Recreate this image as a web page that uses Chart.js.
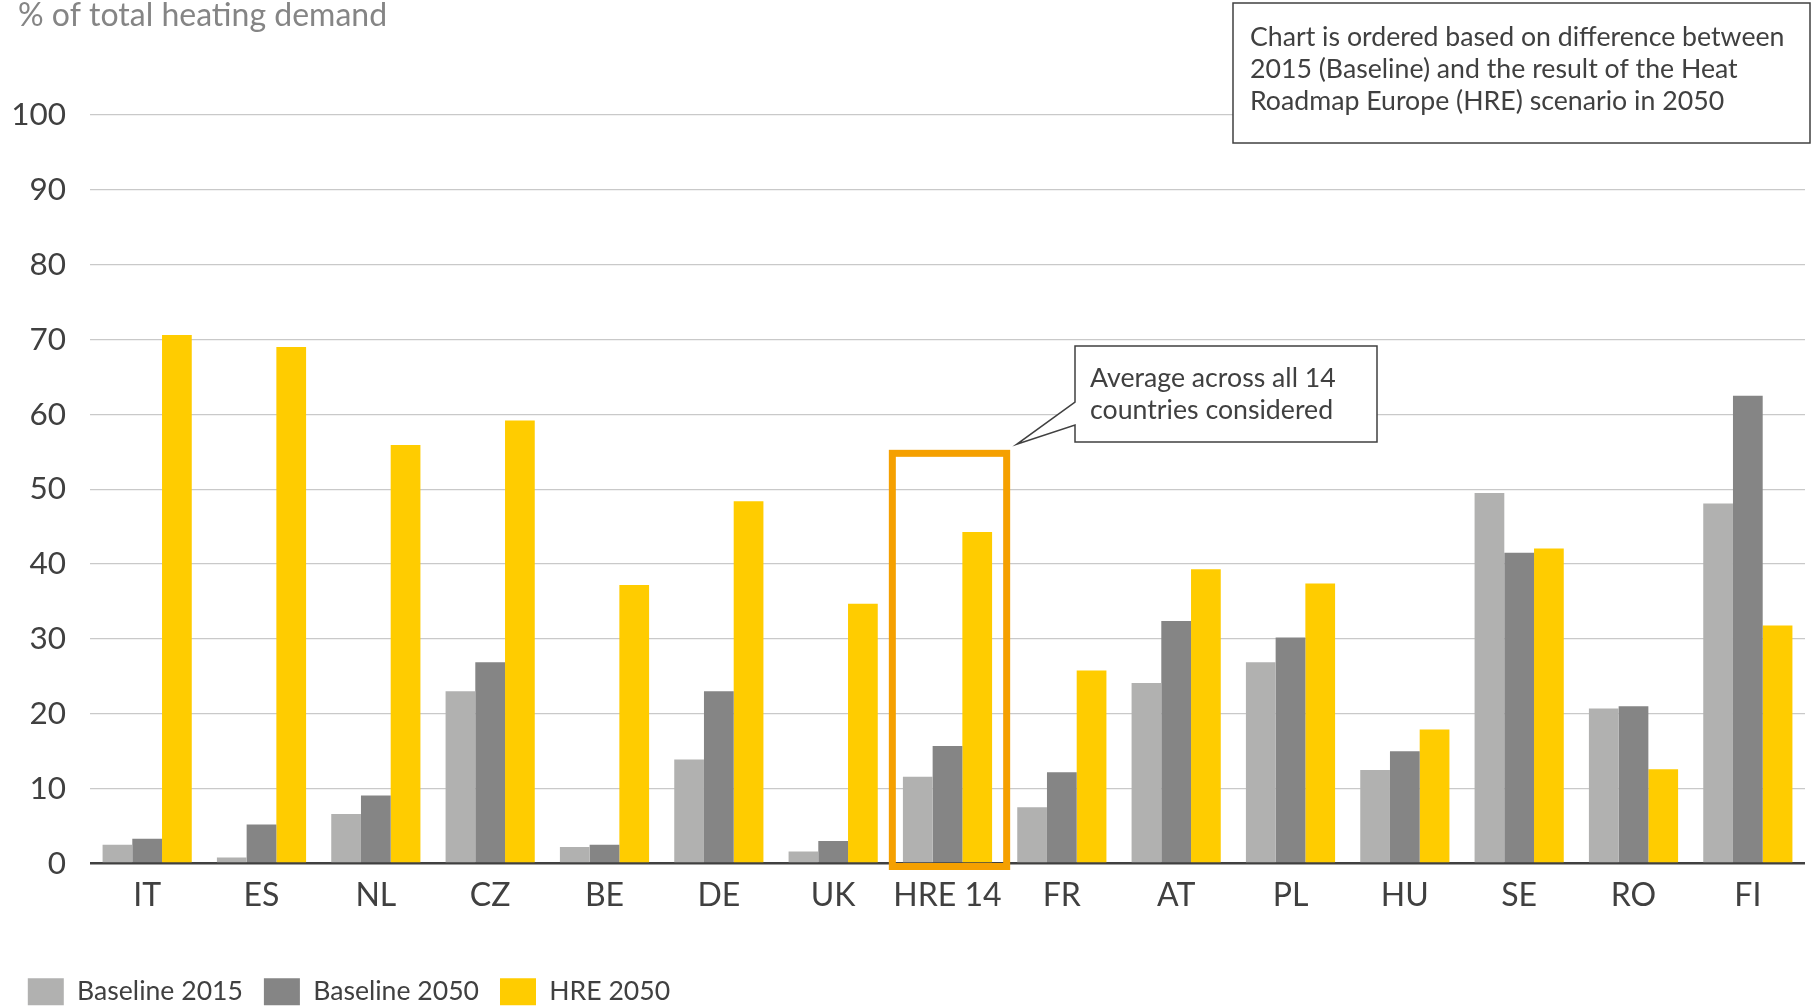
<!DOCTYPE html>
<html>
<head>
<meta charset="utf-8">
<title>Heating demand share by country</title>
<script src="https://cdn.jsdelivr.net/npm/chart.js@4.4.1/dist/chart.umd.min.js"></script>
<style>
    html, body { margin: 0; padding: 0; background: #ffffff; }
    #wrap { position: relative; width: 1818px; height: 1008px; }
</style>
</head>
<body>
<div id="wrap"><canvas id="heatChart"></canvas></div>
<script>
// Countries, ordered by the gap between 2015 and HRE 2050
const categories = ['IT', 'ES', 'NL', 'CZ', 'BE', 'DE', 'UK', 'HRE 14', 'FR', 'AT', 'PL', 'HU', 'SE', 'RO', 'FI'];

// Share of total heating demand (%)
const baseline2015 = [2.5, 0.8, 6.6, 23.0, 2.2, 13.9, 1.6, 11.6, 7.5, 24.1, 26.9, 12.5, 49.5, 20.7, 48.1];
const baseline2050 = [3.3, 5.2, 9.1, 26.9, 2.5, 23.0, 3.0, 15.7, 12.2, 32.4, 30.2, 15.0, 41.5, 21.0, 62.5];
const hre2050 = [70.6, 69.0, 55.9, 59.2, 37.2, 48.4, 34.7, 44.3, 25.8, 39.3, 37.4, 17.9, 42.1, 12.6, 31.8];

const seriesLabels = ['Baseline 2015', 'Baseline 2050', 'HRE 2050'];
const yTicks = [0, 10, 20, 30, 40, 50, 60, 70, 80, 90, 100];

const axisTitle = '% of total heating demand';
const orderNote = [
    'Chart is ordered based on difference between',
    '2015 (Baseline) and the result of the Heat',
    'Roadmap Europe (HRE) scenario in 2050'
];
const averageNote = ['Average across all 14', 'countries considered'];
const highlightCategory = 'HRE 14';

const textColor = '#404040';
const fontFamily = 'Lato, "Open Sans", sans-serif';

// Draws the axis title, the notes and the box around the average column
const overlayPlugin = {
    id: 'overlay',
    afterDatasetsDraw(chart) {
        const { ctx, scales: { x, y } } = chart;
        const idx = categories.indexOf(highlightCategory);
        const half = (x.getPixelForValue(1) - x.getPixelForValue(0)) / 2;
        const cx = x.getPixelForValue(idx);
        const left = cx - half + 2;
        const right = cx + half + 2;
        const top = y.getPixelForValue(54.8);
        const bottom = y.getPixelForValue(0) + 3;

        ctx.save();
        ctx.strokeStyle = '#f5a000';
        ctx.lineWidth = 7;
        ctx.strokeRect(left, top, right - left, bottom - top);
        ctx.restore();

        chart.$highlightBox = { left, top, right, bottom };
    },
    afterDraw(chart) {
        const { ctx } = chart;

        ctx.save();
        // y axis title
        ctx.font = `32px ${fontFamily}`;
        ctx.fillStyle = '#858585';
        ctx.textBaseline = 'alphabetic';
        ctx.textAlign = 'left';
        ctx.fillText(axisTitle, 18, 26);

        // note about ordering, top right
        ctx.fillStyle = '#ffffff';
        ctx.strokeStyle = textColor;
        ctx.lineWidth = 1.5;
        ctx.fillRect(1233, 3, 577, 140);
        ctx.strokeRect(1233, 3, 577, 140);
        ctx.font = `26.7px ${fontFamily}`;
        ctx.fillStyle = textColor;
        ctx.textBaseline = 'middle';
        orderNote.forEach((line, i) => ctx.fillText(line, 1250, 37 + i * 32));

        // callout pointing at the average column
        const hb = chart.$highlightBox;
        const bx = 1075, by = 346, bw = 302, bh = 96;
        const tipX = hb ? hb.right + 10 : 1017;
        const tipY = hb ? hb.top - 9 : 443;
        ctx.beginPath();
        ctx.moveTo(bx, by);
        ctx.lineTo(bx + bw, by);
        ctx.lineTo(bx + bw, by + bh);
        ctx.lineTo(bx, by + bh);
        ctx.lineTo(bx, 425);
        ctx.lineTo(tipX, tipY);
        ctx.lineTo(bx, 402);
        ctx.closePath();
        ctx.fillStyle = '#ffffff';
        ctx.fill();
        ctx.stroke();
        ctx.fillStyle = textColor;
        averageNote.forEach((line, i) => ctx.fillText(line, 1090, 378 + i * 32));
        ctx.restore();
    }
};

const ctx = document.getElementById('heatChart').getContext('2d');
const heatChart = new Chart(ctx, {
    type: 'bar',
    data: {
        labels: categories,
        datasets: [
            { label: seriesLabels[0], data: baseline2015, backgroundColor: '#b1b1b0' },
            { label: seriesLabels[1], data: baseline2050, backgroundColor: '#858585' },
            { label: seriesLabels[2], data: hre2050, backgroundColor: '#ffcc00' }
        ]
    },
    options: {
        responsive: true,
        maintainAspectRatio: false,
        animation: false,
        devicePixelRatio: 1,
        layout: {
            padding: { top: 115, left: 6.8, right: 13, bottom: -7.3 }
        },
        datasets: {
            bar: { categoryPercentage: 0.78, barPercentage: 1, borderWidth: 0 }
        },
        scales: {
            x: {
                grid: { display: false, drawTicks: false },
                border: { display: false },
                ticks: {
                    color: textColor,
                    padding: 13,
                    font: { family: fontFamily, size: 32 }
                },
                afterFit(scale) { scale.height = 93.8; }
            },
            y: {
                min: 0,
                max: 100,
                afterBuildTicks(scale) {
                    scale.ticks = yTicks.map(v => ({ value: v }));
                },
                grid: {
                    drawTicks: false,
                    color: c => (c.tick && c.tick.value === 0 ? textColor : '#c9c9c9'),
                    lineWidth: c => (c.tick && c.tick.value === 0 ? 2.5 : 1.3)
                },
                border: { display: false },
                ticks: {
                    color: textColor,
                    padding: 24,
                    font: { family: fontFamily, size: 31.5 }
                },
                afterFit(scale) { scale.width = 83.2; }
            }
        },
        plugins: {
            legend: {
                position: 'bottom',
                align: 'start',
                labels: {
                    boxWidth: 36,
                    boxHeight: 27,
                    padding: 21,
                    color: textColor,
                    font: { family: fontFamily, size: 26.6 }
                }
            },
            tooltip: { enabled: false }
        }
    },
    plugins: [overlayPlugin]
});
</script>
</body>
</html>
